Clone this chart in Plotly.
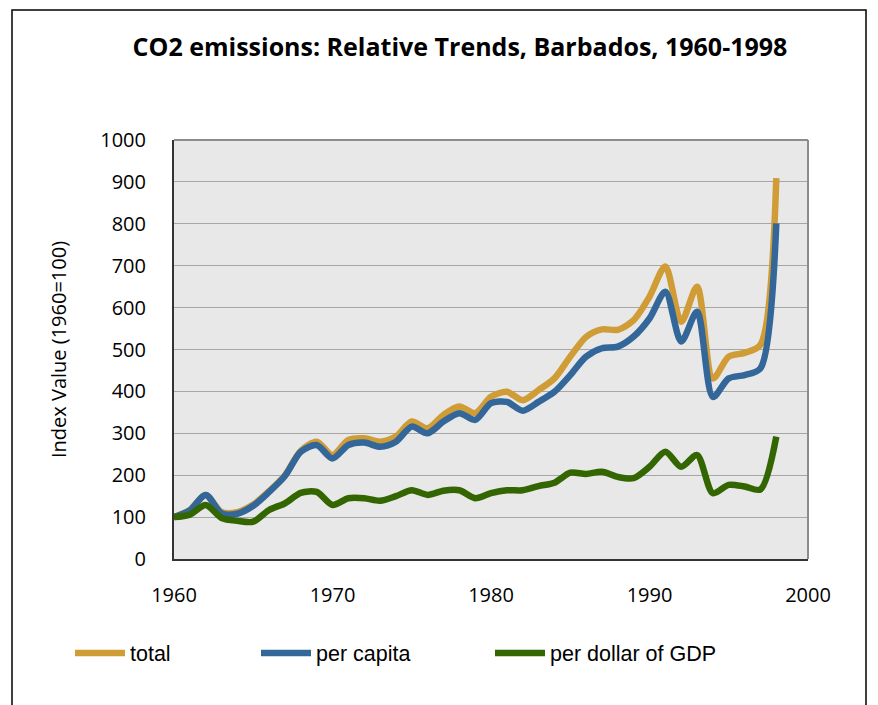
import plotly.graph_objects as go

years = list(range(1960, 1999))
total = [100, 117, 153, 112, 112, 130, 162, 200, 258, 280,
         248, 284, 288, 280, 292, 328, 312, 344, 364, 348,
         387, 399, 379, 403, 431, 483, 530, 548, 547, 570,
         626, 698, 566, 650, 431, 483, 492, 511, 909]
per_capita = [100, 116, 153, 109, 108, 127, 160, 198, 256, 272,
              240, 272, 278, 268, 280, 316, 300, 328, 348, 332,
              372, 375, 354, 375, 399, 439, 483, 503, 507, 531,
              574, 638, 519, 590, 387, 431, 439, 455, 801]
per_gdp = [100, 106, 129, 98, 91, 89, 117, 133, 158, 160,
           129, 145, 145, 139, 150, 164, 153, 163, 164, 145,
           157, 164, 164, 174, 182, 206, 203, 208, 196, 193,
           220, 256, 220, 248, 157, 177, 173, 166, 292]

series_names = ["total", "per capita", "per dollar of GDP"]
series_colors = ["#CF9C36", "#336699", "#336600"]
series_values = [total, per_capita, per_gdp]
legend_ids = ["legend", "legend2", "legend3"]

W, H = 878, 705
L, R, T, B = 174, 808, 140, 559
pw, ph = R - L, B - T

def px(x):
    return (x - L) / pw

def py(y):
    return (B - y) / ph

fig = go.Figure()
for name, color, vals, lid in zip(series_names, series_colors, series_values, legend_ids):
    fig.add_trace(go.Scatter(
        x=years, y=vals, name=name, mode="lines",
        line=dict(color=color, width=6.5, shape="spline", smoothing=0.8),
        legend=lid,
    ))

legend_common = dict(orientation="h", yanchor="middle", xanchor="left",
                     font=dict(family="Liberation Sans, Arial", size=21.5, color="#000"),
                     bgcolor="rgba(0,0,0,0)", itemwidth=50)
fig.update_layout(
    legend=dict(x=px(70), y=py(653), **legend_common),
    legend2=dict(x=px(256), y=py(653), **legend_common),
    legend3=dict(x=px(490), y=py(653), **legend_common),
)

fig.update_layout(
    width=W, height=H,
    margin=dict(l=L, r=W - R, t=T, b=H - B, pad=0),
    paper_bgcolor="white",
    plot_bgcolor="#E8E8E8",
    title=dict(text="<b>CO2 emissions: Relative Trends, Barbados, 1960-1998</b>",
               xref="container", x=460 / W, xanchor="center",
               yref="container", y=1 - 47 / H, yanchor="middle",
               font=dict(family="Open Sans", size=25, color="#000")),
    xaxis=dict(range=[1960, 2000], tickvals=[1960, 1970, 1980, 1990, 2000],
               showgrid=False, zeroline=False, showline=True, linecolor="#333",
               linewidth=2, mirror=False, ticks="", ticklabelstandoff=17,
               tickfont=dict(family="Open Sans", size=20, color="#000")),
    yaxis=dict(range=[0, 1000], tickvals=list(range(0, 1001, 100)),
               showgrid=True, gridcolor="#A6A6A6", gridwidth=1, zeroline=False,
               showline=True, linecolor="#333", linewidth=2, ticks="",
               ticklabelstandoff=22,
               tickfont=dict(family="Open Sans", size=20, color="#000"),
               title=dict(text="Index Value (1960=100)", standoff=28,
                          font=dict(family="Open Sans", size=20, color="#000"))),
    showlegend=True,
)

# top and right frame of plot area (gray)
fig.add_shape(type="line", xref="paper", yref="paper", x0=0, x1=1, y0=1, y1=1,
              line=dict(color="#8C8C8C", width=2))
fig.add_shape(type="line", xref="paper", yref="paper", x0=1, x1=1, y0=0, y1=1,
              line=dict(color="#8C8C8C", width=2))
# outer chart border
fig.add_shape(type="rect", xref="paper", yref="paper",
              x0=px(12), x1=px(866), y0=py(730), y1=py(10),
              line=dict(color="#000", width=1.5), layer="below")

fig.write_html("out.html", config={"displayModeBar": False},
               post_script="document.body.style.margin='0px';document.body.style.overflow='hidden';")
